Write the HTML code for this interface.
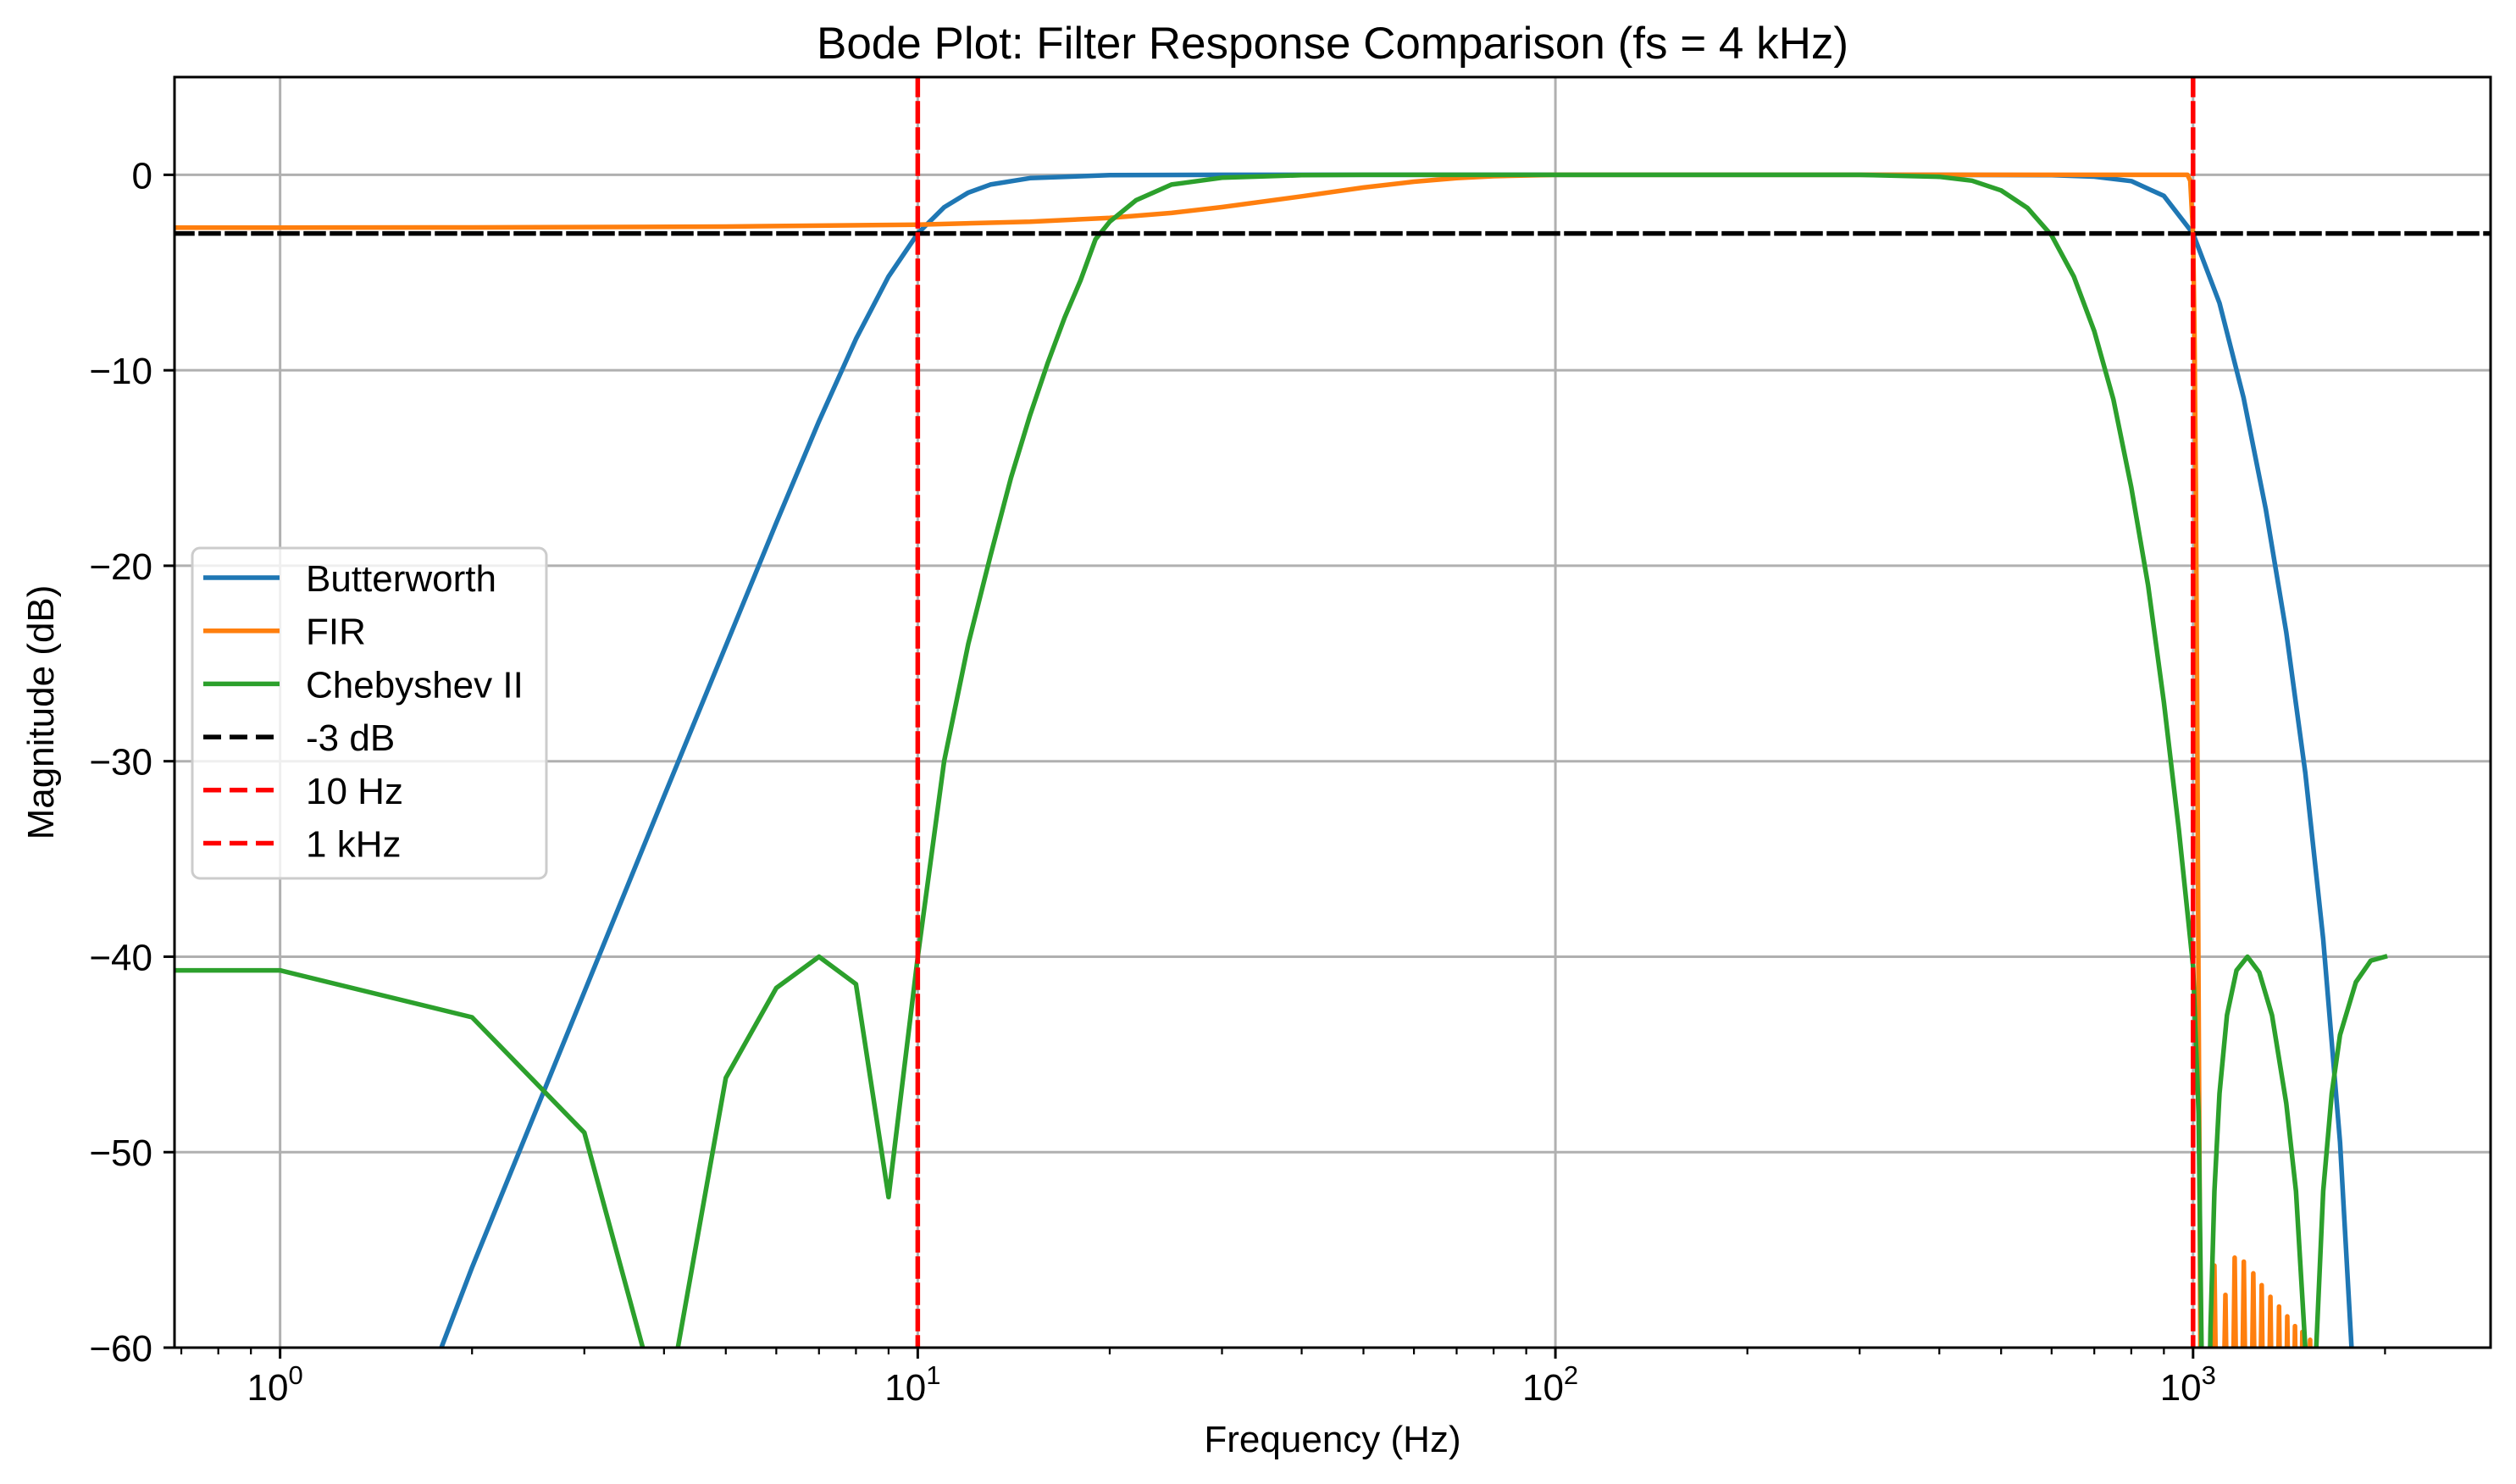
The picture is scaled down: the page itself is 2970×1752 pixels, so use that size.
<!DOCTYPE html>
<html><head><meta charset="utf-8"><style>
html,body{margin:0;padding:0;background:#fff;overflow:hidden;width:2970px;height:1752px;}
svg{display:block;font-family:"Liberation Sans","DejaVu Sans",sans-serif;}
</style></head><body>
<svg id="chart" width="2970" height="1752" viewBox="0 0 2970 1752" xmlns="http://www.w3.org/2000/svg"></svg>
<script>
// ---- data ----
const xTicks = [1, 10, 100, 1000];
const xTickExp = ["0", "1", "2", "3"];
const yTicks = [0, -10, -20, -30, -40, -50, -60];
const yTickLabels = ["0", "\u221210", "\u221220", "\u221230", "\u221240", "\u221250", "\u221260"];
const butterFreq = [1.79, 2, 3, 4, 5, 6, 7, 8, 9, 10, 11, 12, 13, 15, 20, 30, 100, 400, 600, 700, 800, 900, 1000, 1100, 1200, 1300, 1400, 1500, 1600, 1700, 1780];
const butterDb = [-60, -55.9, -41.8, -31.8, -24.1, -17.8, -12.6, -8.4, -5.2, -3.0, -1.66, -0.91, -0.5, -0.17, -0.02, 0, 0, 0, -0.02, -0.09, -0.32, -1.08, -3.01, -6.56, -11.4, -17.1, -23.4, -30.6, -39.1, -49.5, -61.1];
const firFreq = [0.5, 1, 2, 5, 10, 15, 20, 25, 30, 40, 50, 60, 70, 80, 100, 500, 950, 980, 990, 1000, 1005, 1010, 1015, 1020, 1025, 1030, 1060, 1080, 1100, 1124, 1143, 1162, 1181, 1201, 1222, 1243, 1262, 1281, 1300, 1322, 1343, 1364, 1385, 1405, 1425, 1445, 1465, 1484, 1505, 1526, 1545, 2000];
const firDb = [-2.7, -2.7, -2.69, -2.65, -2.55, -2.4, -2.2, -1.95, -1.65, -1.1, -0.65, -0.35, -0.17, -0.07, 0, 0, 0, 0, -0.3, -3, -8, -16, -28, -42, -55, -70, -80, -55.8, -75, -57.3, -75, -55.4, -75, -55.6, -75, -56.2, -75, -56.8, -75, -57.4, -75, -57.9, -75, -58.4, -75, -58.9, -75, -59.2, -75, -59.6, -75, -75];
const chebyFreq = [0.5, 1, 2, 3, 4, 5, 6, 7, 8, 9, 10, 11, 12, 13, 14, 15, 16, 17, 18, 19, 20, 22, 25, 30, 40, 50, 300, 400, 450, 500, 550, 600, 650, 700, 750, 800, 850, 900, 950, 1000, 1020, 1030, 1045, 1065, 1080, 1100, 1130, 1170, 1217, 1270, 1330, 1400, 1450, 1500, 1527, 1560, 1600, 1650, 1700, 1800, 1900, 2000];
const chebyDb = [-40.7, -40.7, -43.1, -49.0, -64, -46.2, -41.6, -40.0, -41.4, -52.3, -40, -30, -24, -19.5, -15.5, -12.3, -9.6, -7.3, -5.4, -3.3, -2.4, -1.3, -0.5, -0.15, -0.02, 0, 0, -0.1, -0.3, -0.8, -1.7, -3.1, -5.2, -8, -11.5, -16, -21, -27, -33.5, -40.5, -48, -59, -75, -59, -52, -47, -43, -40.7, -40.0, -40.8, -43, -47.5, -52, -60, -80, -60, -52, -47, -44, -41.3, -40.2, -40.0];
const refDb = -3;
const refFreqs = [10, 1000];

// ---- layout ----
const L = 206, R = 2940, T = 91, B = 1591;
const xMinLog = Math.log10(0.683), xMaxLog = Math.log10(2928);
const yMin = -60, yMax = 5;
const LW = 5.5, FS = 44;
function xs(f) { return L + (Math.log10(f) - xMinLog) / (xMaxLog - xMinLog) * (R - L); }
function ys(v) { return B - (v - yMin) / (yMax - yMin) * (B - T); }
const NS = "http://www.w3.org/2000/svg";
const svg = document.getElementById('chart');
function mk(tag, attrs, parent) {
  const e = document.createElementNS(NS, tag);
  for (const k in attrs) e.setAttribute(k, attrs[k]);
  (parent || svg).appendChild(e);
  return e;
}
const defs = mk('defs', {});
const cp = mk('clipPath', { id: 'plotclip' }, defs);
mk('rect', { x: L, y: T, width: R - L, height: B - T }, cp);

// grid
const grid = mk('g', { stroke: '#b0b0b0', 'stroke-width': 3 });


xTicks.forEach(f => { mk('line', { x1: xs(f), x2: xs(f), y1: T, y2: B }, grid); });
yTicks.forEach(v => { mk('line', { x1: L, x2: R, y1: ys(v), y2: ys(v) }, grid); });

// series
const plot = mk('g', { 'clip-path': 'url(#plotclip)', fill: 'none', 'stroke-linejoin': 'round', 'stroke-linecap': 'square' });
function series(fr, db, color, name) {
  const d = fr.map((f, i) => (i ? 'L' : 'M') + xs(f).toFixed(1) + ',' + ys(db[i]).toFixed(1)).join(' ');
  const p = mk('path', { d: d, stroke: color, 'stroke-width': LW }, plot);
  
  
}
series(butterFreq, butterDb, '#1f77b4', 'butterworth-line');
series(firFreq, firDb, '#ff7f0e', 'fir-line');
series(chebyFreq, chebyDb, '#2ca02c', 'chebyshev-line');
const dash = '21,10';
const hl = mk('line', { x1: L, x2: R, y1: ys(refDb), y2: ys(refDb), stroke: '#000', 'stroke-width': LW, 'stroke-dasharray': dash }, plot);


refFreqs.forEach((f, i) => {
  const vl = mk('line', { x1: xs(f), x2: xs(f), y1: T, y2: B, stroke: '#ff0000', 'stroke-width': LW, 'stroke-dasharray': dash }, plot);
  
  
});

// spines
const sp = mk('rect', { x: L, y: T, width: R - L, height: B - T, fill: 'none', stroke: '#000', 'stroke-width': 3 });



// ticks
const tk = mk('g', { stroke: '#000' });
yTicks.forEach((v, i) => {
  mk('line', { x1: L - 13, x2: L, y1: ys(v), y2: ys(v), 'stroke-width': 3 }, tk);
  const t = mk('text', { x: L - 26, y: ys(v) + 16, 'text-anchor': 'end', 'font-size': FS, fill: '#000', stroke: 'none' });
  t.textContent = yTickLabels[i];
  
  
});
xTicks.forEach((f, i) => {
  mk('line', { x1: xs(f), x2: xs(f), y1: B, y2: B + 13, 'stroke-width': 3 }, tk);
  const t = mk('text', { x: xs(f) - 6, y: B + 62, 'text-anchor': 'middle', 'font-size': FS, fill: '#000', stroke: 'none' });
  t.textContent = '10';
  const s = mk('tspan', { dy: -19, 'font-size': 31 }, t);
  s.textContent = xTickExp[i];
  
  
});
for (let e = -1; e <= 3; e++) {
  for (let m = 2; m <= 9; m++) {
    const f = m * Math.pow(10, e);
    const x = xs(f);
    if (x < L || x > R) continue;
    mk('line', { x1: x, x2: x, y1: B, y2: B + 8, 'stroke-width': 2.2 }, tk);
  }
}

// labels
function txt(s, attrs, name) {
  const t = mk('text', Object.assign({ fill: '#000' }, attrs));
  t.textContent = s;
  
  
  return t;
}
txt('Bode Plot: Filter Response Comparison (fs = 4 kHz)', { x: (L + R) / 2, y: 69, 'text-anchor': 'middle', 'font-size': 53 }, 'chart-title');
txt('Frequency (Hz)', { x: (L + R) / 2, y: 1714, 'text-anchor': 'middle', 'font-size': FS }, 'x-axis-title');
txt('Magnitude (dB)', { x: 63, y: (T + B) / 2, 'text-anchor': 'middle', 'font-size': FS, transform: 'rotate(-90 63 ' + (T + B) / 2 + ')' }, 'y-axis-title');

// legend
const lg = mk('g', {});


mk('rect', { x: 227, y: 647, width: 418, height: 390, rx: 9, fill: '#fff', 'fill-opacity': 0.8, stroke: '#cccccc', 'stroke-width': 3 }, lg);
const legendItems = [['Butterworth', '#1f77b4', ''], ['FIR', '#ff7f0e', ''], ['Chebyshev II', '#2ca02c', ''], ['-3 dB', '#000', dash], ['10 Hz', '#ff0000', dash], ['1 kHz', '#ff0000', dash]];
legendItems.forEach((it, i) => {
  const y = 682 + i * 62.7;
  const a = { x1: 240, x2: 330, y1: y, y2: y, stroke: it[1], 'stroke-width': LW };
  if (it[2]) a['stroke-dasharray'] = it[2];
  const ln = mk('line', a, lg);
  
  
  const t = mk('text', { x: 361, y: y + 16, 'font-size': FS, fill: '#000' }, lg);
  t.textContent = it[0];
  
  
});
</script>
</body></html>
